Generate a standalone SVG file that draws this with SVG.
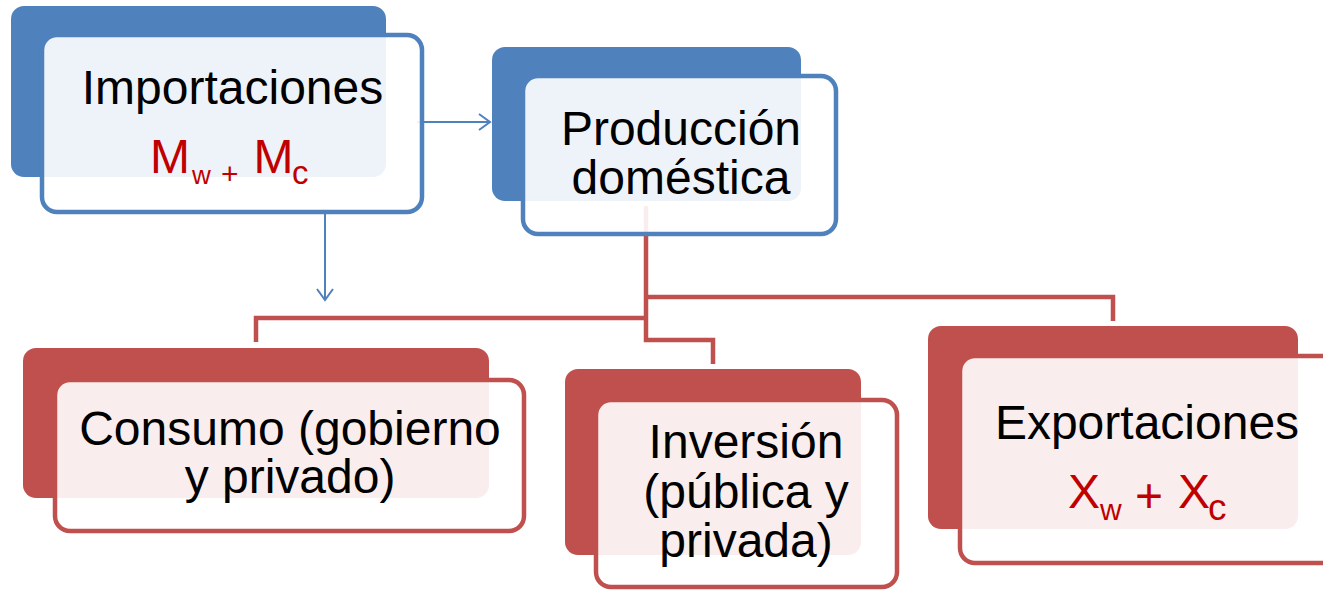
<svg xmlns="http://www.w3.org/2000/svg" width="1323" height="590" viewBox="0 0 1323 590">
<defs>
<style>
.bb{fill:#4F81BD}
.fb{fill:#FFFFFF;fill-opacity:0.9;stroke:#4F81BD;stroke-width:4.5}
.br{fill:#C0504D}
.fr{fill:#FFFFFF;fill-opacity:0.9;stroke:#C0504D;stroke-width:4.5}
.t{font-family:"Liberation Sans",Arial,sans-serif;font-size:48px;fill:#000000;text-anchor:middle}
.r{font-family:"Liberation Sans",Arial,sans-serif;fill:#C00000}
.cb{fill:none;stroke:#4F81BD;stroke-width:2}
.cr{fill:none;stroke:#C0504D;stroke-width:4.5;stroke-linejoin:miter}
</style>
<marker id="ah" markerUnits="userSpaceOnUse" markerWidth="14" markerHeight="18" refX="12" refY="9" orient="auto" viewBox="0 0 14 18">
<path d="M1,1 L12,9 L1,17" fill="none" stroke="#4F81BD" stroke-width="2"/>
</marker>
</defs>
<rect class="bb" x="11" y="6" width="375" height="171" rx="13"/>
<rect class="bb" x="492" y="47" width="309" height="154" rx="13"/>
<rect class="br" x="23" y="348" width="466" height="150" rx="13"/>
<rect class="br" x="565" y="369" width="296" height="186" rx="13"/>
<rect class="br" x="928" y="326" width="370" height="203" rx="13"/>
<g id="connectors">
<path class="cr" d="M646,206 V340 H713 V364"/>
<path class="cr" d="M646,297 H1113 V321"/>
<path class="cr" d="M646,318 H256 V342"/>
<path class="cb" d="M417,122 H490" marker-end="url(#ah)"/>
<path class="cb" d="M325,212 V300" marker-end="url(#ah)"/>
</g>
<g id="importaciones">
<rect class="fb" x="42" y="35" width="380" height="177" rx="15"/>
<text class="t" x="232.5" y="104">Importaciones</text>
<text class="r"><tspan x="150" y="173" font-size="48">M</tspan><tspan x="192" y="184" font-size="26">w</tspan><tspan x="221" y="184" font-size="30">+</tspan><tspan x="253.5" y="173" font-size="48">M</tspan><tspan x="292" y="184" font-size="33">c</tspan></text>
</g>
<g id="produccion">
<rect class="fb" x="523" y="76" width="313" height="158" rx="15"/>
<text class="t" x="681" y="145">Producción</text>
<text class="t" x="681" y="194">doméstica</text>
</g>
<g id="consumo">
<rect class="fr" x="55" y="380" width="469" height="151" rx="15"/>
<text class="t" x="290" y="445">Consumo (gobierno</text>
<text class="t" x="290" y="493">y privado)</text>
</g>
<g id="inversion">
<rect class="fr" x="596" y="400" width="301" height="187" rx="15"/>
<text class="t" x="746" y="458">Inversión</text>
<text class="t" x="746" y="508">(pública y</text>
<text class="t" x="746" y="557">privada)</text>
</g>
<g id="exportaciones">
<rect class="fr" x="960" y="356" width="380" height="207" rx="15"/>
<text class="t" x="1147" y="439">Exportaciones</text>
<text class="r"><tspan x="1068" y="508" font-size="48">X</tspan><tspan x="1100" y="520" font-size="30">w</tspan><tspan x="1135" y="512" font-size="48">+</tspan><tspan x="1178" y="508" font-size="48">X</tspan><tspan x="1208" y="520" font-size="37">c</tspan></text>
</g>
</svg>
